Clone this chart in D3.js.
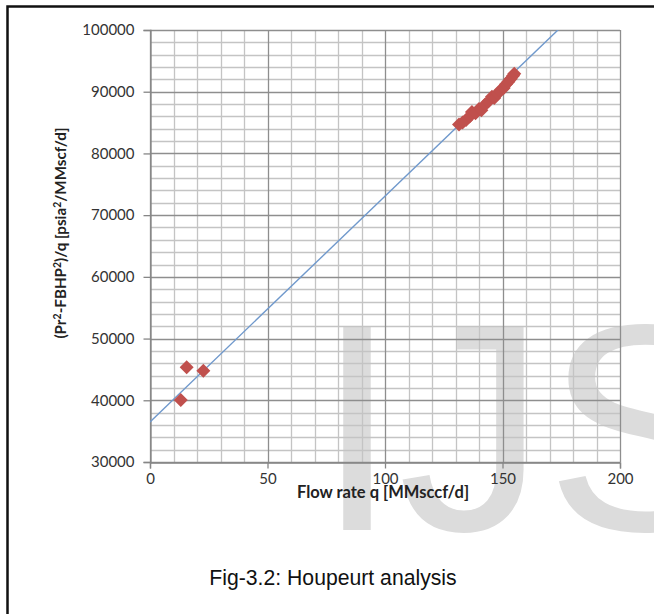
<!DOCTYPE html>
<html>
<head>
<meta charset="utf-8">
<script src="https://cdn.jsdelivr.net/npm/d3@7"></script>
<style>
  html, body { margin: 0; padding: 0; background: #fff; }
  svg { display: block; }
</style>
</head>
<body>
<svg id="chart" width="654" height="614"></svg>
<script>
// Measured flow rates (MMscf/d) and Houpeurt term (psia^2 / MMscf/d)
const flowRate = [13.1, 15.6, 22.7,
  131.5, 133, 134.5, 136, 137, 138.5, 140, 141, 142.5, 144,
  145.5, 146.5, 148, 149, 150.5, 151.5, 152.5, 153.5, 154.5, 155];
const houpeurt = [40050, 45350, 44800,
  84700, 85000, 85400, 86000, 86700, 86500, 87200, 87000, 87900, 88400,
  89200, 89000, 89700, 90200, 90600, 91200, 91600, 92100, 92600, 92900];

// Linear trend line end points
const trendQ = [0, 200];
const trendValue = [36480, 109660];

// Axis ticks
const xTicks = [0, 50, 100, 150, 200];
const yTicks = [30000, 40000, 50000, 60000, 70000, 80000, 90000, 100000];
const xMinorStep = 10;
const yMinorStep = 2000;

const svg = d3.select("#chart");
const plot = { left: 150, right: 620, top: 30, bottom: 462 };

const x = d3.scaleLinear().domain([0, 200]).range([plot.left, plot.right]);
const y = d3.scaleLinear().domain([30000, 100000]).range([plot.bottom, plot.top]);

// Outer frame (top and left edges visible)
svg.append("path")
  .attr("d", "M7.5,700 V6.5 H700")
  .attr("fill", "none")
  .attr("stroke", "#111")
  .attr("stroke-width", 2.5);

// Background watermark
svg.append("text")
  .attr("x", 316)
  .attr("y", 530)
  .attr("font-family", "'Liberation Sans', Arial, sans-serif")
  .attr("font-size", 295)
  .attr("fill", "#dcdcdc")
  .text("IJS");

// Grid
const grid = svg.append("g");
const xMinor = d3.range(0, 200 + 1e-9, xMinorStep);
const yMinor = d3.range(30000, 100000 + 1e-9, yMinorStep);

grid.selectAll("line.xminor").data(xMinor.filter(v => !xTicks.includes(v)))
  .join("line")
  .attr("x1", d => Math.round(x(d)) + 0.5).attr("x2", d => Math.round(x(d)) + 0.5)
  .attr("y1", plot.top).attr("y2", plot.bottom)
  .attr("stroke", "#c4c4c4").attr("stroke-width", 1.3);

grid.selectAll("line.yminor").data(yMinor.filter(v => !yTicks.includes(v)))
  .join("line")
  .attr("y1", d => Math.round(y(d)) + 0.5).attr("y2", d => Math.round(y(d)) + 0.5)
  .attr("x1", plot.left).attr("x2", plot.right)
  .attr("stroke", "#c4c4c4").attr("stroke-width", 1.3);

grid.selectAll("line.ymajor").data(yTicks)
  .join("line")
  .attr("y1", d => Math.round(y(d)) + 0.5).attr("y2", d => Math.round(y(d)) + 0.5)
  .attr("x1", plot.left).attr("x2", plot.right)
  .attr("stroke", "#8e8e8e").attr("stroke-width", 1.3);

grid.selectAll("line.xmajor").data(xTicks)
  .join("line")
  .attr("x1", d => Math.round(x(d)) + 0.5).attr("x2", d => Math.round(x(d)) + 0.5)
  .attr("y1", plot.top).attr("y2", plot.bottom)
  .attr("stroke", "#8e8e8e").attr("stroke-width", 1.3);

// Axes
const tickFont = "Lato, 'Open Sans', sans-serif";
const xAxis = svg.append("g")
  .attr("transform", `translate(0,${plot.bottom + 0.5})`)
  .call(d3.axisBottom(x).tickValues(xTicks).tickSize(6).tickPadding(5).tickFormat(d3.format("d")));
const yAxis = svg.append("g")
  .attr("transform", `translate(${plot.left + 0.5},0)`)
  .call(d3.axisLeft(y).tickValues(yTicks).tickSize(7).tickPadding(9).tickFormat(d3.format("d")));

[xAxis, yAxis].forEach(ax => {
  ax.select(".domain").attr("stroke", "#868686").attr("stroke-width", 1.3);
  ax.selectAll(".tick line").attr("stroke", "#868686").attr("stroke-width", 1.3);
  ax.selectAll(".tick text")
    .attr("font-family", tickFont)
    .attr("font-size", 15)
    .attr("fill", "#333");
});

// Trend line, clipped to plot area
svg.append("clipPath").attr("id", "plotClip")
  .append("rect")
  .attr("x", plot.left).attr("y", plot.top)
  .attr("width", plot.right - plot.left).attr("height", plot.bottom - plot.top);

const trend = trendQ.map((q, i) => [q, trendValue[i]]);
svg.append("path")
  .datum(trend)
  .attr("clip-path", "url(#plotClip)")
  .attr("d", d3.line().x(d => x(d[0])).y(d => y(d[1])))
  .attr("fill", "none")
  .attr("stroke", "#7099cc")
  .attr("stroke-width", 1.4);

// Data markers
const points = flowRate.map((q, i) => [q, houpeurt[i]]);
const r = 7;
svg.append("g").selectAll("path")
  .data(points)
  .join("path")
  .attr("transform", d => `translate(${x(d[0])},${y(d[1])})`)
  .attr("d", `M0,${-r} L${r},0 L0,${r} L${-r},0 Z`)
  .attr("fill", "#c0504d");

// Axis titles
svg.append("text")
  .attr("x", (plot.left + plot.right) / 2 - 2)
  .attr("y", 498)
  .attr("text-anchor", "middle")
  .attr("font-family", tickFont)
  .attr("font-weight", "bold")
  .attr("font-size", 16.5)
  .attr("fill", "#222")
  .text("Flow rate q [MMsccf/d]");

const yTitle = svg.append("text")
  .attr("transform", "translate(66,233) rotate(-90)")
  .attr("text-anchor", "middle")
  .attr("font-family", tickFont)
  .attr("font-weight", "bold")
  .attr("font-size", 15.2)
  .attr("fill", "#222");
const parts = [["(Pr", 0], ["2", 1], ["-FBHP", 0], ["2", 1], [")/q [psia", 0], ["2", 1], ["/MMscf/d]", 0]];
let prevSup = 0;
parts.forEach(([t, sup]) => {
  const ts = yTitle.append("tspan").text(t);
  const dy = sup ? -5 : (prevSup ? 5 : 0);
  if (dy) ts.attr("dy", dy);
  if (sup) ts.attr("font-size", 10.5);
  prevSup = sup;
});

// Caption
svg.append("text")
  .attr("x", 333)
  .attr("y", 585)
  .attr("text-anchor", "middle")
  .attr("font-family", "'Liberation Sans', Arial, sans-serif")
  .attr("font-size", 21.2)
  .attr("fill", "#111")
  .text("Fig-3.2: Houpeurt analysis");
</script>
</body>
</html>
